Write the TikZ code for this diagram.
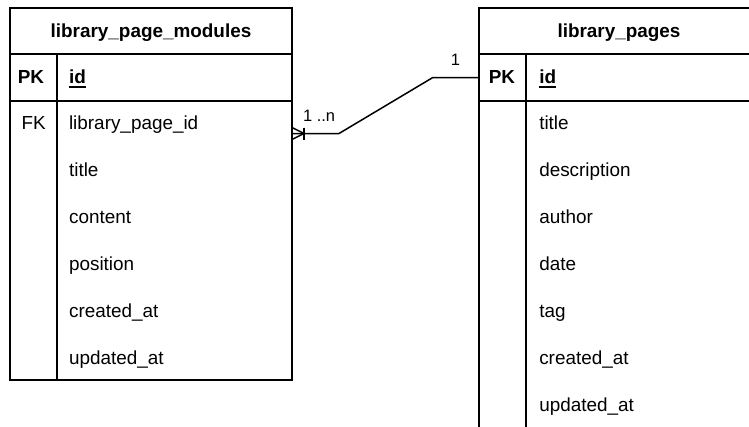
\documentclass[tikz,border=0pt]{standalone}
\usepackage{fontspec}
\setmainfont{Liberation Sans}
\newcommand\fieldul[1]{\setbox0\hbox{#1}\rlap{\rule[-4.2pt]{\wd0}{1.8pt}}\box0}
\begin{document}
\begin{tikzpicture}[x=1pt,y=-1pt,line width=1.5pt,
  tablebox/.style={draw,rectangle,inner sep=0pt,outer sep=0pt,anchor=north west},
  txt/.style={inner sep=0pt,anchor=base west,font=\fontsize{18.9}{22}\selectfont},
  keytxt/.style={inner sep=0pt,anchor=base,font=\fontsize{18.9}{22}\selectfont},
  headtxt/.style={inner sep=0pt,anchor=base,font=\fontsize{18.9}{22}\selectfont\bfseries},
  edgelbl/.style={inner sep=0pt,font=\fontsize{16.5}{19}\selectfont}]
\useasboundingbox (0,0) rectangle (749,426);
\begin{scope}
\clip (0,0) rectangle (749,426);

% ---- table library_page_modules ----
\node[tablebox,minimum width=282pt,minimum height=372pt] (lt) at (10,8) {};
\draw (10,54) -- (292,54);
\draw (10,101) -- (292,101);
\draw (57,54) -- (57,380);
\node[headtxt] (lthead) at (151,37) {library\_page\_modules};
\node[keytxt,font=\fontsize{18.9}{22}\selectfont\bfseries] (ltpk) at (31,83.3) {PK};
\node[txt,font=\fontsize{18.9}{22}\selectfont\bfseries] (ltid) at (68.3,83.3) {\fieldul{id}};
\node[keytxt] (ltfk) at (33.7,129.3) {FK};
\node[txt] (lt1) at (68.3,129.3) {library\_page\_id};
\node[txt] (lt2) at (68.3,176.4) {title};
\node[txt] (lt3) at (68.3,223.5) {content};
\node[txt] (lt4) at (68.3,270.6) {position};
\node[txt] (lt5) at (68.3,317.7) {created\_at};
\node[txt] (lt6) at (68.3,364.8) {updated\_at};

% ---- table library_pages ----
\node[tablebox,minimum width=282pt,minimum height=470pt] (rt) at (479,8) {};
\draw (479,54) -- (761,54);
\draw (479,101) -- (761,101);
\draw (526,54) -- (526,478);
\node[headtxt] (rthead) at (619,37) {library\_pages};
\node[keytxt,font=\fontsize{18.9}{22}\selectfont\bfseries] (rtpk) at (502,83.3) {PK};
\node[txt,font=\fontsize{18.9}{22}\selectfont\bfseries] (rtid) at (538.5,83.3) {\fieldul{id}};
\node[txt] (rt1) at (538.5,129.3) {title};
\node[txt] (rt2) at (538.5,176.4) {description};
\node[txt] (rt3) at (538.5,223.5) {author};
\node[txt] (rt4) at (538.5,270.6) {date};
\node[txt] (rt5) at (538.5,317.7) {tag};
\node[txt] (rt6) at (538.5,364.8) {created\_at};
\node[txt] (rt7) at (538.5,411.9) {updated\_at};

% ---- relation: many modules to one page ----
\path (lt.north east) ++(0,125.5) coordinate (lout);
\path (rt.north west) ++(0,69.7) coordinate (rin);
\draw (lout) -- ++(47,0) -- ++(93.5,-55.8) -- (rin);
% crow's foot with bar
\draw (lout) ++(0,-6) -- ++(12,6) -- ++(-12,6);
\draw (lout) ++(12,-6) -- ++(0,12);
\node[edgelbl,anchor=base west] (manylbl) at (302.3,121.7) {1 ..n};
\node[edgelbl,anchor=base] (onelbl) at (455.5,65.7) {1};
\end{scope}
\end{tikzpicture}
\end{document}
